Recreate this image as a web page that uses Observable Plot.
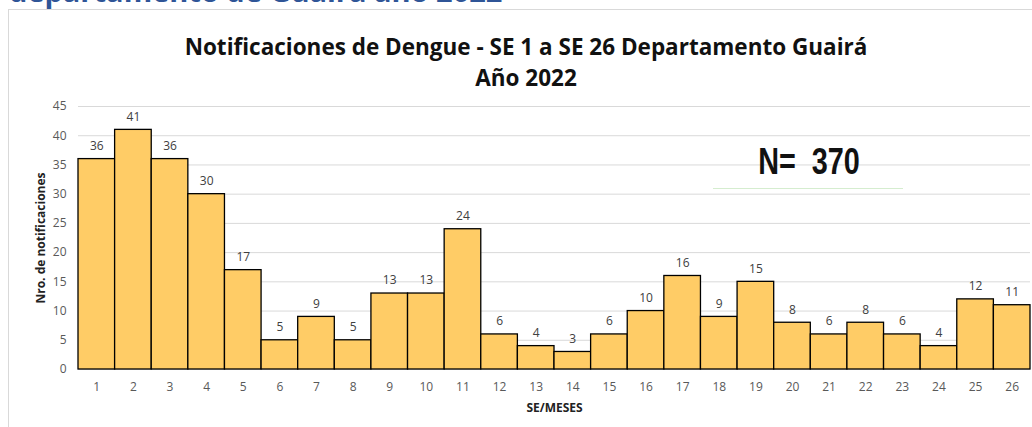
<!DOCTYPE html>
<html>
<head>
<meta charset="utf-8">
<script src="https://cdn.jsdelivr.net/npm/d3@7"></script>
<script src="https://cdn.jsdelivr.net/npm/@observablehq/plot@0.6"></script>
<style>
  html, body { margin: 0; padding: 0; background: #fff; }
  #wrap { position: relative; width: 1032px; height: 427px; overflow: hidden; font-family: "Open Sans", "Liberation Sans", sans-serif; }
  #heading { position: absolute; left: 9px; top: -29px; font: bold 29px "Open Sans", sans-serif; color: #2F5597; white-space: nowrap; }
  #frame { position: absolute; left: 8px; top: 9px; width: 1040px; height: 440px; border: 1px solid #D9D9D9; box-sizing: border-box; }
  #title { position: absolute; left: 0; width: 1052px; top: 31px; text-align: center; font: bold 22.5px "Open Sans", sans-serif; color: #111; line-height: 31px; }
  #nlabel { position: absolute; left: 809px; top: 141px; transform: translateX(-50%) scaleX(0.8); white-space: nowrap; font: bold 36px "Liberation Sans", Arial, sans-serif; color: #111; }
  #nline { position: absolute; left: 713px; top: 188px; width: 190px; height: 1px; background: #D5EDCF; }
  #chart { position: absolute; left: 0; top: 0; }
</style>
</head>
<body>
<div id="wrap">
  <div id="heading">departamento de Guairá año 2022</div>
  <div id="frame"></div>
  <div id="title">Notificaciones de Dengue - SE 1 a SE 26 Departamento Guairá<br>Año 2022</div>
  <div id="chart"></div>
  <div id="nlabel">N=&nbsp; 370</div>
  <div id="nline"></div>
</div>
<script>
const weeks = ["1","2","3","4","5","6","7","8","9","10","11","12","13","14","15","16","17","18","19","20","21","22","23","24","25","26"];
const counts = [36,41,36,30,17,5,9,5,13,13,24,6,4,3,6,10,16,9,15,8,6,8,6,4,12,11];
const yTicks = [0,5,10,15,20,25,30,35,40,45];

const data = weeks.map((w, i) => ({week: w, n: counts[i]}));

const chart = Plot.plot({
  width: 1032,
  height: 427,
  marginLeft: 78,
  marginRight: 2,
  marginTop: 106,
  marginBottom: 58,
  style: {background: "transparent", fontFamily: "'Open Sans', sans-serif", fontSize: "12px", color: "#595959"},
  x: {domain: weeks, padding: 0, round: false},
  y: {domain: [0, 45]},
  marks: [
    Plot.gridY(yTicks, {stroke: "#D9D9D9", strokeOpacity: 1, strokeWidth: 1}),
    Plot.barY(data, {x: "week", y: "n", fill: "#FFCC66", stroke: "#000", strokeWidth: 1.3}),
    Plot.text(data, {x: "week", y: "n", text: d => String(d.n), dy: -13, fill: "#404040", fontSize: 12}),
    Plot.axisY({ticks: yTicks, tickSize: 0, tickPadding: 12, label: "Nro. de notificaciones", labelAnchor: "center", labelArrow: "none", labelOffset: 42, fill: "#595959"}),
    Plot.axisX({tickSize: 0, tickPadding: 13, label: "SE/MESES", labelAnchor: "center", labelArrow: "none", labelOffset: 42, fill: "#595959"})
  ]
});
document.getElementById("chart").appendChild(chart);
chart.querySelectorAll("[aria-label='y-axis label'] text, [aria-label='x-axis label'] text").forEach(t => {
  t.setAttribute("font-weight", "bold");
  t.setAttribute("fill", "#222");
});
</script>
</body>
</html>
